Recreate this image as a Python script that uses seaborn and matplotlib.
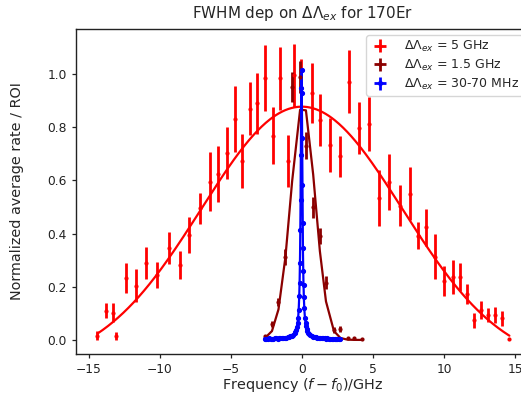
import numpy as np
import pandas as pd
import matplotlib
matplotlib.use("Agg")
import matplotlib.pyplot as plt
import seaborn as sns

# ---------------- data ----------------
red_x = [-14.37, -13.74, -13.25, -13.04, -12.38, -11.68, -10.93, -10.16, -9.37, -8.58,
         -7.90, -7.13, -6.47, -5.87, -5.23, -4.67, -4.18, -3.62, -3.13, -2.62,
         -2.06, -1.52, -0.98, -0.52, -0.05, 0.70, 1.28, 1.98, 2.68, 3.31,
         4.04, 4.74, 5.42, 6.12, 6.94, 7.59, 8.16, 8.76, 9.36, 10.00,
         10.62, 11.14, 11.63, 12.10, 12.61, 13.13, 13.62, 14.08, 14.60]
red_y = [0.016, 0.110, 0.103, 0.016, 0.234, 0.204, 0.290, 0.244, 0.345, 0.283,
         0.395, 0.495, 0.595, 0.624, 0.704, 0.830, 0.673, 0.870, 0.890, 0.984,
         0.768, 0.984, 0.673, 0.995, 0.946, 0.930, 0.827, 0.733, 0.690, 0.971,
         0.796, 0.812, 0.533, 0.593, 0.505, 0.549, 0.392, 0.424, 0.313, 0.222,
         0.236, 0.236, 0.173, 0.073, 0.113, 0.094, 0.094, 0.081, 0.004]
red_err = [0.016, 0.028, 0.037, 0.015, 0.056, 0.063, 0.060, 0.050, 0.061, 0.053,
           0.069, 0.059, 0.110, 0.105, 0.098, 0.123, 0.100, 0.098, 0.115, 0.125,
           0.107, 0.119, 0.098, 0.119, 0.110, 0.113, 0.097, 0.103, 0.078, 0.119,
           0.097, 0.102, 0.106, 0.105, 0.078, 0.100, 0.050, 0.070, 0.085, 0.056,
           0.063, 0.052, 0.037, 0.028, 0.034, 0.025, 0.029, 0.028, 0.005]

maroon_x = [-2.62, -2.10, -1.64, -1.15, -0.68, -0.12, 0.29, 0.80, 1.27, 1.70,
            2.26, 2.72, 3.22, 3.68, 4.20]
maroon_y = [0.015, 0.060, 0.144, 0.310, 0.952, 0.990, 0.730, 0.498, 0.392, 0.215,
            0.037, 0.040, 0.008, 0.006, 0.004]
maroon_err = [0.005, 0.010, 0.015, 0.030, 0.056, 0.060, 0.050, 0.040, 0.030, 0.025,
              0.010, 0.012, 0.004, 0.003, 0.003]

blue_x = [-2.62, -2.50, -2.40, -2.30, -2.20, -2.10, -2.00, -1.90, -1.80, -1.70,
          -1.60, -1.50, -1.40, -1.30, -1.20, -1.10, -1.00, -0.90, -0.80, -0.70,
          -0.60, -0.50, -0.45, -0.40, -0.35, -0.30, -0.26, -0.22, -0.18, -0.15,
          -0.12, -0.10, -0.08, -0.06, -0.04, -0.02, 0.00, 0.02, 0.04, 0.06,
          0.08, 0.10, 0.12, 0.15, 0.18, 0.22, 0.26, 0.30, 0.35, 0.40,
          0.45, 0.50, 0.60, 0.70, 0.80, 0.90, 1.00, 1.10, 1.20, 1.30,
          1.40, 1.50, 1.60, 1.70, 1.80, 1.90, 2.00, 2.10, 2.20, 2.30,
          2.40, 2.50, 2.60, 2.68]
blue_y = [0.004, 0.005, 0.004, 0.006, 0.005, 0.005, 0.004, 0.006, 0.006, 0.005,
          0.007, 0.006, 0.007, 0.008, 0.008, 0.009, 0.010, 0.011, 0.013, 0.015,
          0.019, 0.026, 0.031, 0.038, 0.048, 0.064, 0.083, 0.114, 0.166, 0.214,
          0.288, 0.414, 0.526, 0.695, 0.946, 1.015, 0.930, 0.759, 0.581, 0.439,
          0.346, 0.259, 0.205, 0.163, 0.119, 0.083, 0.064, 0.051, 0.040, 0.032,
          0.027, 0.023, 0.018, 0.014, 0.012, 0.011, 0.010, 0.009, 0.008, 0.007,
          0.007, 0.006, 0.006, 0.005, 0.006, 0.005, 0.004, 0.005, 0.005, 0.004,
          0.005, 0.004, 0.004, 0.004]
blue_err = [0.004] * len(blue_x)

labels = [r"$\Delta\Lambda_{ex}$ = 5 GHz",
          r"$\Delta\Lambda_{ex}$ = 1.5 GHz",
          r"$\Delta\Lambda_{ex}$ = 30-70 MHz"]
colors = ["red", "darkred", "blue"]

# fit parameters (as drawn in the reference)
red_fit = dict(A=0.977, mu=0.0, sigma=7.07, c=-0.10)     # gaussian + offset
maroon_fit = dict(A=0.89, mu=0.08, sigma=0.85, c=0.0)    # gaussian
blue_fit = dict(A=1.0, mu=-0.02, gamma=0.07, c=0.005)    # lorentzian


def gauss(x, A, mu, sigma, c):
    x = np.asarray(x, dtype=float)
    return A * np.exp(-(x - mu) ** 2 / (2 * sigma ** 2)) + c


def lorentz(x, A, mu, gamma, c):
    x = np.asarray(x, dtype=float)
    return A / (1 + ((x - mu) / gamma) ** 2) + c


# ---------------- style ----------------
sns.set_theme(style="ticks")
plt.rcParams["font.family"] = ["DejaVu Sans"]
plt.rcParams.update({
    "axes.edgecolor": "#222222",
    "axes.linewidth": 1.0,
    "xtick.major.size": 3.0,
    "ytick.major.size": 3.0,
    "xtick.major.width": 0.9,
    "ytick.major.width": 0.9,
    "xtick.color": "#222222",
    "ytick.color": "#222222",
    "xtick.labelsize": 8.8,
    "ytick.labelsize": 8.8,
    "axes.labelsize": 10.4,
    "mathtext.default": "it",
})

fig = plt.figure(figsize=(5.21, 3.94), dpi=100)
ax = fig.add_axes([0.1459, 0.1015, 0.8695, 0.8249])

series = [
    (red_x, red_y, red_err, 0.05, 4),
    (maroon_x, maroon_y, maroon_err, 0.02, 4),
    (blue_x, blue_y, blue_err, 0.01, 5.5),
]
fits = [
    ("g", red_fit), ("g", maroon_fit), ("l", blue_fit)
]

handles = []
for (x, y, e, xe, ms), (kind, p), col, lab in zip(series, fits, colors, labels):
    h = ax.errorbar(x, y, yerr=e, xerr=xe, fmt=".", color=col, ms=ms,
                    elinewidth=2.0, capsize=0, label=lab)
    handles.append(h)
    if kind == "g" and col == "red":
        xf = np.linspace(min(x), max(x), 400)
        yf = gauss(xf, **p)
    elif kind == "g":
        xf = np.array(x, dtype=float)
        yf = gauss(xf, **p)
    else:
        xf = np.linspace(min(x), max(x), 1500)
        yf = lorentz(xf, **p)
    df = pd.DataFrame({"x": xf, "y": yf})
    sns.lineplot(data=df, x="x", y="y", ax=ax, color=col, linewidth=1.6,
                 sort=False, estimator=None, legend=False)

ax.set_xlim(-15.88, 15.98)
ax.set_ylim(-0.053, 1.169)
ax.set_xticks([-15, -10, -5, 0, 5, 10, 15])
ax.set_yticks([0.0, 0.2, 0.4, 0.6, 0.8, 1.0])
ax.set_yticklabels(["0.0", "0.2", "0.4", "0.6", "0.8", "1.0"])
ax.set_xlabel(r"Frequency $(f - f_0)$/GHz", labelpad=0.0)
ax.set_ylabel("Normalized average rate / ROI", labelpad=17)
ax.set_title(r"FWHM dep on $\Delta\Lambda_{ex}$ for 170Er", fontsize=10.9, pad=8)

leg = ax.legend(handles=handles, labels=labels, loc="upper right", fontsize=9,
                frameon=True, handlelength=1.6, borderaxespad=0.5,
                labelspacing=0.3, borderpad=0.3, handletextpad=1.1)
leg.get_frame().set_edgecolor("#cccccc")

fig.savefig("out.png", dpi=100)
